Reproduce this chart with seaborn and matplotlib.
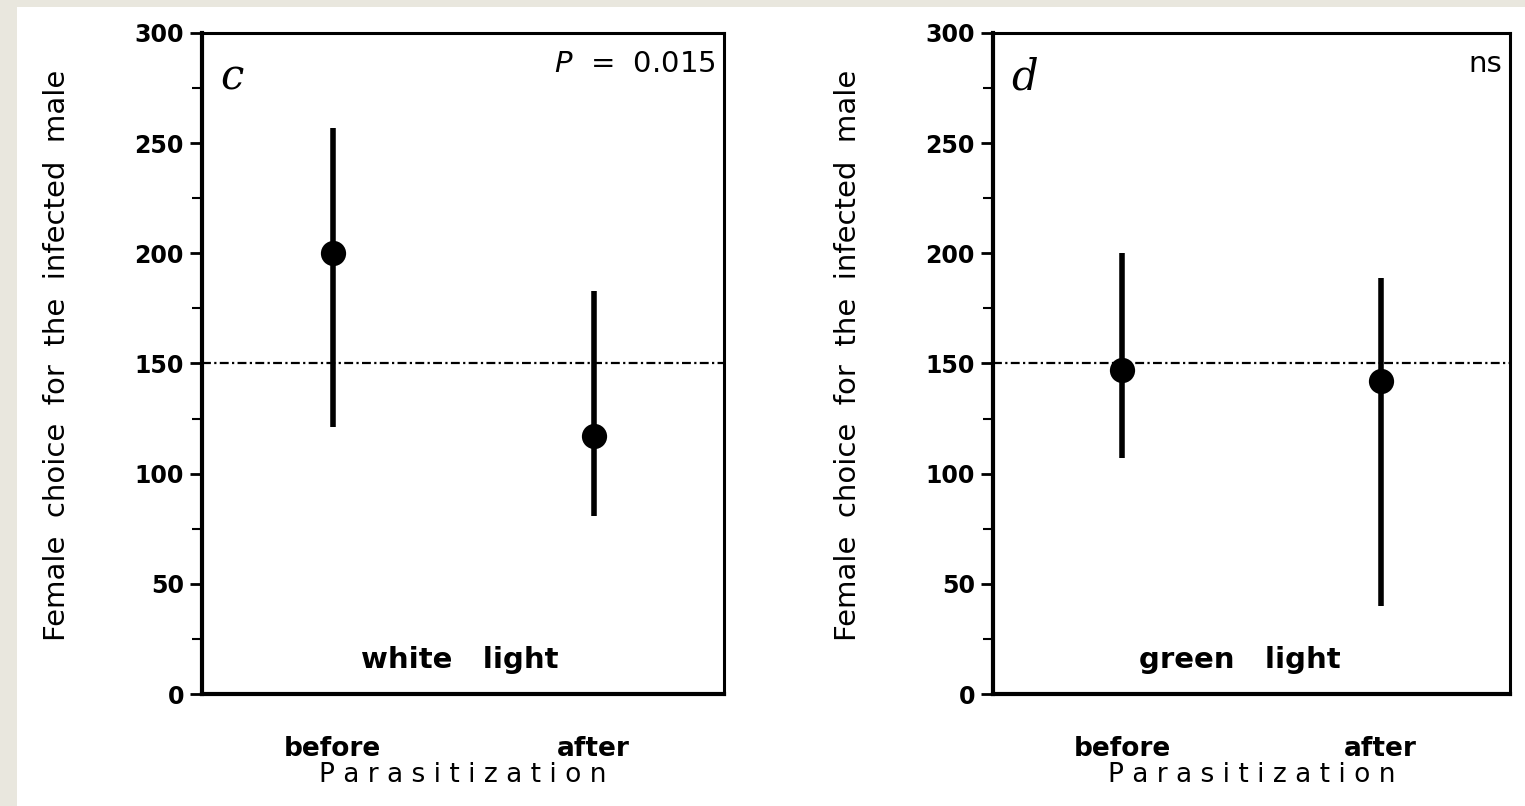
import matplotlib
matplotlib.use("Agg")
import matplotlib.pyplot as plt
import seaborn as sns
import pandas as pd
from matplotlib.ticker import MultipleLocator
from matplotlib.patches import Rectangle

sns.set_theme(style="ticks")
plt.rcParams['font.family'] = ['DejaVu Sans']
plt.rcParams['text.color'] = 'black'
plt.rcParams['axes.labelcolor'] = 'black'
plt.rcParams['xtick.color'] = 'black'
plt.rcParams['ytick.color'] = 'black'

# ---- data ----
categories = ["before", "after"]
white_mean = [200, 117]
white_low = [121, 81]
white_high = [257, 183]
green_mean = [147, 142]
green_low = [107, 40]
green_high = [200, 189]
panel_letters = ["c", "d"]
panel_stats = ["P = 0.015", "ns"]
panel_conditions = ["white   light", "green   light"]
y_ticks = [0, 50, 100, 150, 200, 250, 300]
reference_level = 150
y_label = "Female  choice  for  the  infected  male"
x_label = "P a r a s i t i z a t i o n"

fig = plt.figure(figsize=(15.25, 8.06), dpi=100, facecolor="white")
# scanned-paper margin
fig.patches.append(Rectangle((0, 0), 17 / 1525, 1, transform=fig.transFigure,
                             facecolor="#e9e7de", edgecolor="none", zorder=-5))
fig.patches.append(Rectangle((0, 1 - 7 / 806), 1, 7 / 806, transform=fig.transFigure,
                             facecolor="#e9e7de", edgecolor="none", zorder=-5))

axes_rects = [
    [202 / 1525, 1 - 694 / 806, 522 / 1525, 661 / 806],
    [993 / 1525, 1 - 694 / 806, 517 / 1525, 661 / 806],
]
panels = [
    (white_mean, white_low, white_high),
    (green_mean, green_low, green_high),
]
cond_x = [0.494, 0.478]
ylabel_x = [57 / 1525, 848 / 1525]

for i, (rect, (m, lo, hi)) in enumerate(zip(axes_rects, panels)):
    ax = fig.add_axes(rect)
    ax.set_facecolor("white")
    df = pd.DataFrame({"cond": categories, "mean": m, "low": lo, "high": hi})
    ax.axhline(reference_level, color="black", lw=1.6, ls=(0, (4, 1.5, 1, 1.5)), zorder=1)
    ax.vlines(df["cond"], df["low"], df["high"], color="black", lw=4, zorder=2)
    sns.scatterplot(data=df, x="cond", y="mean", ax=ax, color="black", s=330,
                    marker="o", edgecolor="black", linewidth=0, zorder=3, legend=False)
    ax.set_xlim(-0.5, 1.5)
    ax.set_ylim(0, 300)
    ax.set_yticks(y_ticks)
    ax.yaxis.set_minor_locator(MultipleLocator(25))
    ax.tick_params(axis="y", which="major", direction="out", length=9, width=2,
                   labelsize=17, pad=4, colors="black")
    ax.tick_params(axis="y", which="minor", direction="out", length=7, width=1.5)
    ax.tick_params(axis="x", which="major", length=0, labelsize=19, pad=30)
    for lab in ax.get_yticklabels():
        lab.set_fontweight("bold")
    for lab in ax.get_xticklabels():
        lab.set_fontweight("bold")
    for s in ["left", "bottom"]:
        ax.spines[s].set_linewidth(3)
        ax.spines[s].set_color("black")
    for s in ["top", "right"]:
        ax.spines[s].set_linewidth(2.2)
        ax.spines[s].set_color("black")
    ax.set_xlabel(x_label, fontsize=19, labelpad=0)
    ax.set_ylabel("")
    fig.text(ylabel_x[i], 1 - 355 / 806, y_label, rotation=90, ha="center",
             va="center", fontsize=21)
    ax.text(0.035, 0.965, panel_letters[i], transform=ax.transAxes, ha="left",
            va="top", fontsize=30, family="DejaVu Serif", style="italic")
    stat = panel_stats[i]
    if stat.startswith("P"):
        ax.text(0.985, 0.975, r"$\mathit{P}$" + "  =  0.015", transform=ax.transAxes,
                ha="right", va="top", fontsize=21)
    else:
        ax.text(0.985, 0.975, stat, transform=ax.transAxes, ha="right", va="top",
                fontsize=21)
    ax.text(cond_x[i], 0.052, panel_conditions[i], transform=ax.transAxes,
            ha="center", va="center", fontsize=21, fontweight="bold")

fig.savefig("out.png", dpi=100, facecolor="white")
